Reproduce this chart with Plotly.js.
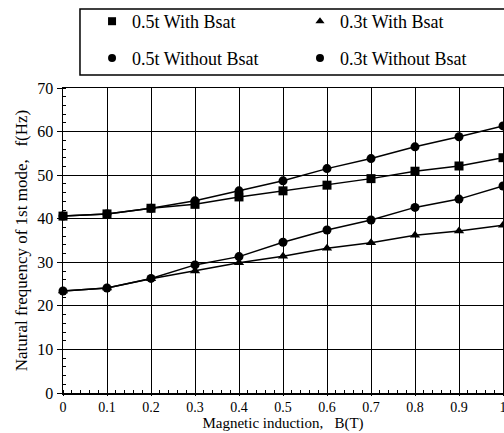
<!DOCTYPE html>
<html>
<head>
<meta charset="utf-8">
<script src="https://cdn.plot.ly/plotly-3.0.1.min.js"></script>
<style>html,body{margin:0;padding:0;background:#fff;}#chart{width:504px;height:433px;}</style>
</head>
<body>
<div id="chart"></div>
<script>
const B = [0, 0.1, 0.2, 0.3, 0.4, 0.5, 0.6, 0.7, 0.8, 0.9, 1.0];
const f05With = [40.6, 41.1, 42.4, 43.3, 45.0, 46.4, 47.7, 49.2, 50.9, 52.1, 54.0];
const f05Without = [40.6, 41.1, 42.4, 44.1, 46.4, 48.7, 51.5, 53.8, 56.5, 58.8, 61.3];
const f03With = [23.4, 24.1, 26.2, 28.0, 29.9, 31.4, 33.2, 34.5, 36.2, 37.2, 38.5];
const f03Without = [23.4, 24.1, 26.3, 29.4, 31.3, 34.6, 37.4, 39.7, 42.6, 44.5, 47.5];
const seriesNames = ['0.5t With Bsat', '0.3t With Bsat', '0.5t Without Bsat', '0.3t Without Bsat'];
const seriesSymbols = ['square', 'triangle-up', 'circle', 'circle'];
const seriesValues = [f05With, f03With, f05Without, f03Without];
const xTickVals = [0, 0.1, 0.2, 0.3, 0.4, 0.5, 0.6, 0.7, 0.8, 0.9, 1];
const xTickText = ['0', '0.1', '0.2', '0.3', '0.4', '0.5', '0.6', '0.7', '0.8', '0.9', '1'];

const font = "Liberation Serif, Times New Roman, serif";
const legendIds = ['legend', 'legend2', 'legend3', 'legend4'];
const legendX = [0.066, 0.5386, 0.066, 0.5386];
const legendY = [1.218, 1.218, 1.097, 1.097];

const traces = [];
seriesValues.forEach((vals, i) => {
  traces.push({
    x: B, y: vals, type: 'scatter', mode: 'lines+markers', showlegend: false,
    line: {color: '#000', width: 1.5},
    marker: {symbol: seriesSymbols[i], size: 9, color: '#000'},
    cliponaxis: false
  });
});
seriesValues.forEach((vals, i) => {
  traces.push({
    x: [null], y: [null], type: 'scatter', mode: 'markers', name: seriesNames[i],
    legend: legendIds[i],
    marker: {symbol: seriesSymbols[i], size: 8, color: '#000'}
  });
});

const layout = {
  width: 504, height: 433,
  margin: {l: 63, r: 1, t: 88, b: 40, pad: 0},
  paper_bgcolor: '#fff', plot_bgcolor: '#fff',
  font: {family: font, color: '#000', size: 15},
  showlegend: true,
  shapes: [{
    type: 'rect', xref: 'paper', yref: 'paper',
    x0: 0.0386, x1: 1.02, y0: 1.043, y1: 1.259,
    line: {color: '#000', width: 1.5}, fillcolor: 'rgba(0,0,0,0)'
  }],
  xaxis: {
    range: [0, 1], tickvals: xTickVals, ticktext: xTickText,
    showgrid: true, gridcolor: '#000', gridwidth: 1,
    showline: true, linecolor: '#000', linewidth: 1.5, mirror: true,
    ticks: 'outside', ticklen: 1, tickcolor: '#000',
    tickfont: {family: font, size: 14}, ticklabeloverflow: 'allow',
    minor: {dtick: 0.02, ticks: 'inside', ticklen: 3, tickcolor: '#000', showgrid: false},
    zeroline: false,
    title: {text: 'Magnetic induction,   B(T)', font: {family: font, size: 15}, standoff: 2}
  },
  yaxis: {
    range: [0, 70], dtick: 10,
    showgrid: true, gridcolor: '#000', gridwidth: 1,
    showline: true, linecolor: '#000', linewidth: 1.5, mirror: true,
    ticks: 'outside', ticklen: 5, tickcolor: '#000',
    tickfont: {family: font, size: 16},
    minor: {dtick: 2, ticks: 'inside', ticklen: 3, tickcolor: '#000', showgrid: false},
    zeroline: false,
    title: {text: 'Natural frequency of 1st mode,   f(Hz)', font: {family: font, size: 17}, standoff: 5}
  }
};
legendIds.forEach((id, i) => {
  layout[id] = {
    x: legendX[i], y: legendY[i], xanchor: 'left', yanchor: 'middle',
    borderwidth: 0, bgcolor: 'rgba(0,0,0,0)',
    font: {family: font, size: 18, color: '#000'}
  };
});
Plotly.newPlot('chart', traces, layout, {displayModeBar: false, staticPlot: true});
</script>
</body>
</html>
